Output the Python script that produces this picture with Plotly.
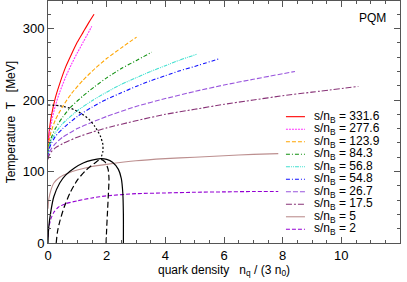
import plotly.graph_objects as go

# ---- data ----
ratio_labels = ["331.6", "277.6", "123.9", "84.3", "56.8", "54.8", "26.7", "17.5", "5", "2"]

x_3316 = [0, 0.02, 0.06, 0.12, 0.25, 0.4, 0.6, 0.8, 1.0, 1.2, 1.4, 1.57]
T_3316 = [125, 147, 163, 179, 203, 223, 246, 264, 281, 295, 309, 320]

x_2776 = [0, 0.02, 0.06, 0.12, 0.25, 0.4, 0.6, 0.8, 1.0, 1.2, 1.49]
T_2776 = [125, 142, 156, 170, 192, 211, 232, 250, 266, 281, 303]

x_1239 = [0, 0.03, 0.1, 0.25, 0.5, 0.8, 1.2, 1.6, 2.0, 2.5, 3.02]
T_1239 = [125, 141, 155, 172, 191, 209, 228, 244, 258, 273, 288]

x_843 = [0, 0.03, 0.1, 0.25, 0.5, 0.8, 1.2, 1.6, 2.0, 2.5, 3.0, 3.54]
T_843 = [122, 135, 146, 160, 176, 191, 206, 219, 231, 244, 255, 267]

x_568 = [0, 0.03, 0.1, 0.25, 0.5, 1.0, 1.5, 2.0, 2.5, 3.0, 3.5, 4.0, 4.5, 5.07]
T_568 = [122, 133, 142, 154, 167, 185, 199, 211, 222, 231, 240, 248, 256, 264]

x_548 = [0, 0.03, 0.1, 0.25, 0.5, 1.0, 1.5, 2.0, 2.5, 3.0, 3.5, 4.0, 4.5, 5.0, 5.86]
T_548 = [120, 130, 138, 149, 160, 177, 190, 201, 210, 219, 227, 234, 241, 247, 258]

x_267 = [0, 0.03, 0.1, 0.25, 0.5, 1, 1.5, 2, 3, 4, 5, 6, 7, 8.42]
T_267 = [118, 125, 131, 139, 148, 160, 169, 177, 191, 202, 212, 221, 229, 240]

x_175 = [0, 0.03, 0.1, 0.25, 0.5, 1, 1.5, 2, 3, 4, 5, 6, 7, 8, 9, 10.58]
T_175 = [117, 122, 127, 133, 139, 148, 155, 161, 171, 180, 187, 194, 200, 206, 211, 219]

x_5 = [0, 0.03, 0.1, 0.2, 0.4, 0.7, 1.0, 1.5, 2.0, 3.0, 4.0, 5.0, 6.0, 7.0, 7.85]
T_5 = [48, 62, 74, 84, 92, 98, 102, 107, 110, 115, 118, 120, 122, 124, 125]

x_2 = [0, 0.03, 0.1, 0.2, 0.35, 0.6, 1.0, 1.5, 2.0, 3.0, 4.0, 5.0, 6.0, 7.0, 7.85]
T_2 = [8, 22, 34, 43, 50, 55, 59, 63, 66, 69, 70, 71, 71.5, 72, 72]

# phase-boundary curves
x_solid = [0, 0.02, 0.1, 0.2, 0.4, 0.6, 0.9, 1.2, 1.5, 1.8, 2.0, 2.2, 2.4, 2.5, 2.55, 2.57, 2.57]
T_solid = [0, 20, 45, 65, 84, 95, 105, 112, 116, 118, 117, 113, 103, 90, 70, 40, 0]

x_dashed = [0.28, 0.32, 0.4, 0.55, 0.75, 1.0, 1.3, 1.6, 1.8, 1.95, 2.05, 2.08, 2.06, 2.03, 2.0, 1.98]
T_dashed = [0, 15, 30, 50, 70, 88, 102, 112, 117, 113, 103, 90, 70, 45, 20, 0]

x_dotted = [0, 0.4, 0.8, 1.1, 1.4, 1.6, 1.78, 1.87, 1.87, 1.8]
T_dotted = [193, 192, 188, 182, 173, 163, 150, 138, 128, 118]

# ---- styles ----
series_x = [x_3316, x_2776, x_1239, x_843, x_568, x_548, x_267, x_175, x_5, x_2]
series_T = [T_3316, T_2776, T_1239, T_843, T_568, T_548, T_267, T_175, T_5, T_2]
colors = ["#ff0000", "#ff33ff", "#ffa500", "#109010", "#40e0d0", "#1010ff",
          "#9955dd", "#883377", "#bc8f8f", "#9400d3"]
dashes = ["solid", "2px,1px", "4px,2px", "4px,2px,1px,2px", "4px,1px,1px,1px,1px,1px",
          "4px,2px,1px,2px", "5px,2px", "6px,2px,2px,2px", "solid", "4px,2px"]

FONT = "Liberation Sans, Arial, sans-serif"

fig = go.Figure()

for xs, ts, c, d in zip(series_x, series_T, colors, dashes):
    fig.add_trace(go.Scatter(x=xs, y=ts, mode="lines", line=dict(color=c, width=1.1, dash=d,
                             shape="spline", smoothing=0.6), showlegend=False, hoverinfo="skip"))

fig.add_trace(go.Scatter(x=x_solid, y=T_solid, mode="lines",
                         line=dict(color="black", width=1.2, shape="spline", smoothing=0.6),
                         showlegend=False, hoverinfo="skip"))
fig.add_trace(go.Scatter(x=x_dashed, y=T_dashed, mode="lines",
                         line=dict(color="black", width=1.2, dash="6px,3px", shape="spline", smoothing=0.6),
                         showlegend=False, hoverinfo="skip"))
fig.add_trace(go.Scatter(x=x_dotted, y=T_dotted, mode="lines",
                         line=dict(color="black", width=1.2, dash="2px,2px", shape="spline", smoothing=0.6),
                         showlegend=False, hoverinfo="skip"))

# ---- manual legend (compact rows) ----
row_top = 0.522
row_step = 0.0517
for i, (lab, c, d) in enumerate(zip(ratio_labels, colors, dashes)):
    yy = row_top - i * row_step
    fig.add_trace(go.Scatter(x=[0.676, 0.730], y=[yy, yy], mode="lines",
                             line=dict(color=c, width=1.1, dash=d),
                             xaxis="x2", yaxis="y2", showlegend=False, hoverinfo="skip"))
    fig.add_annotation(x=0.753, y=yy, xref="x2", yref="y2", xanchor="left", yanchor="middle",
                       text="s/n<sub>B</sub> = " + lab, showarrow=False, borderpad=0,
                       font=dict(family=FONT, size=12, color="black"))

fig.add_annotation(x=0.965, y=0.965, xref="paper", yref="paper", xanchor="right", yanchor="top",
                   text="PQM", showarrow=False, font=dict(family=FONT, size=12, color="black"))

axis_common = dict(showline=True, linecolor="#555", linewidth=1, mirror="allticks",
                   ticks="inside", ticklen=6, tickcolor="#555", tickwidth=1,
                   showgrid=False, zeroline=False, automargin=False,
                   tickfont=dict(family=FONT, size=13, color="black"))

fig.update_layout(
    width=407, height=282,
    margin=dict(l=48, r=7, t=1, b=39),
    paper_bgcolor="white", plot_bgcolor="white",
    font=dict(family=FONT, size=13, color="black"),
    xaxis=dict(range=[0, 12], dtick=2,
               minor=dict(dtick=0.5, ticks="inside", ticklen=3, tickcolor="#555"),
               title=dict(text="quark density   n<sub>q</sub> / (3 n<sub>0</sub>)",
                          font=dict(family=FONT, size=12), standoff=2),
               **axis_common),
    yaxis=dict(range=[0, 338.5], dtick=100,
               minor=dict(dtick=20, ticks="inside", ticklen=3, tickcolor="#555"),
               title=dict(text="Temperature  T   [MeV]", font=dict(family=FONT, size=12), standoff=4),
               **axis_common),
    xaxis2=dict(range=[0, 1], overlaying="x", visible=False, fixedrange=True),
    yaxis2=dict(range=[0, 1], overlaying="y", visible=False, fixedrange=True),
    showlegend=False,
    hovermode=False,
)

fig.write_html("out.html", config={"displayModeBar": False, "staticPlot": True},
               post_script="document.body.style.margin='0';document.body.style.overflow='hidden';")
